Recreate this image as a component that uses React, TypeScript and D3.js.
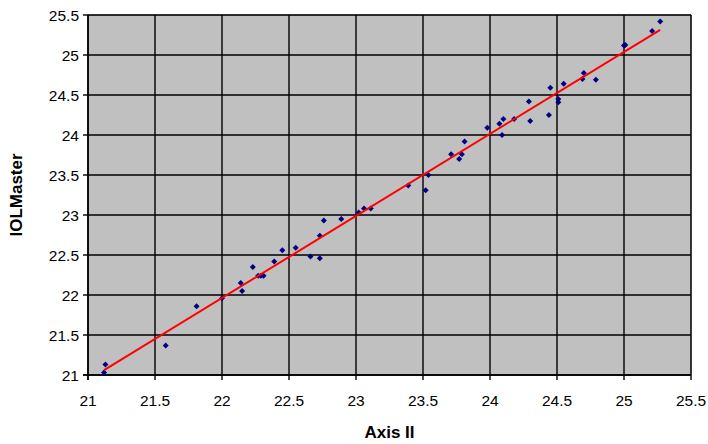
import React from "react";
import * as d3 from "d3";

const xValues = [
  21.12, 21.13, 21.58, 21.81, 22.0, 22.14, 22.15, 22.23, 22.27, 22.29, 22.31, 22.39, 22.45, 22.55,
  22.66, 22.73, 22.73, 22.76, 22.89, 23.02, 23.06, 23.11, 23.39, 23.52, 23.54, 23.71, 23.77, 23.79,
  23.81, 23.98, 24.07, 24.09, 24.1, 24.18, 24.29, 24.3, 24.44, 24.45, 24.51, 24.51, 24.55, 24.69,
  24.7, 24.79, 25.0, 25.01, 25.21, 25.27,
];
const yValues = [
  21.03, 21.13, 21.37, 21.86, 21.96, 22.15, 22.05, 22.35, 22.24, 22.24, 22.24, 22.42, 22.56, 22.59,
  22.48, 22.46, 22.74, 22.93, 22.95, 23.03, 23.08, 23.08, 23.37, 23.31, 23.5, 23.76, 23.7, 23.76,
  23.92, 24.09, 24.14, 24.0, 24.2, 24.2, 24.42, 24.175, 24.25, 24.59, 24.45, 24.41, 24.64, 24.7,
  24.775, 24.69, 25.12, 25.125, 25.3, 25.42,
];
const xTicks = [21, 21.5, 22, 22.5, 23, 23.5, 24, 24.5, 25, 25.5];
const yTicks = [21, 21.5, 22, 22.5, 23, 23.5, 24, 24.5, 25, 25.5];
const xTitle = "Axis II";
const yTitle = "IOLMaster";

export default function App() {
  const W = 708, H = 444;
  const L = 88, R = 691, T = 15, B = 375;
  const x = d3.scaleLinear().domain([21, 25.5]).range([L, R]);
  const y = d3.scaleLinear().domain([21, 25.5]).range([B, T]);
  const n = xValues.length;
  const mx = d3.mean(xValues)!, my = d3.mean(yValues)!;
  let sxy = 0, sxx = 0;
  for (let i = 0; i < n; i++) {
    sxy += (xValues[i] - mx) * (yValues[i] - my);
    sxx += (xValues[i] - mx) ** 2;
  }
  const slope = sxy / sxx;
  const icpt = my - slope * mx;
  const x0 = d3.min(xValues)!, x1 = d3.max(xValues)!;
  const line = d3.line<number>().x((v) => x(v)).y((v) => y(icpt + slope * v));
  const diamond = "M0,-3L3,0L0,3L-3,0Z";
  const font = "Liberation Sans, Arial, sans-serif";
  return (
    <svg width={W} height={H} style={{ position: "absolute", left: 0, top: 0, background: "#fff" }}>
      <rect x={L} y={T} width={R - L} height={B - T} fill="#C0C0C0" stroke="#808080" strokeWidth={1} />
      {xTicks.map((t) => (
        <line key={"gx" + t} x1={x(t)} x2={x(t)} y1={T} y2={B} stroke="#000" strokeWidth={1.4} />
      ))}
      {yTicks.map((t) => (
        <line key={"gy" + t} x1={L} x2={R} y1={y(t)} y2={y(t)} stroke="#000" strokeWidth={1.4} />
      ))}
      <line x1={L} x2={L} y1={T} y2={B + 5} stroke="#000" strokeWidth={1.4} />
      <line x1={L - 5} x2={R} y1={B} y2={B} stroke="#000" strokeWidth={1.4} />
      {yTicks.map((t) => (
        <g key={"ty" + t}>
          <line x1={L - 5} x2={L} y1={y(t)} y2={y(t)} stroke="#000" strokeWidth={1.4} />
          <text x={L - 9} y={y(t) + 5.5} textAnchor="end" fontFamily={font} fontSize={15.5} fill="#000">
            {t}
          </text>
        </g>
      ))}
      {xTicks.map((t) => (
        <g key={"tx" + t}>
          <line x1={x(t)} x2={x(t)} y1={B} y2={B + 5} stroke="#000" strokeWidth={1.4} />
          <text x={x(t)} y={B + 31} textAnchor="middle" fontFamily={font} fontSize={15.5} fill="#000">
            {t}
          </text>
        </g>
      ))}
      {xValues.map((v, i) => (
        <path key={"p" + i} d={diamond} transform={`translate(${x(v)},${y(yValues[i])})`} fill="#000080" />
      ))}
      <path d={line([x0, x1])!} stroke="#FF0000" strokeWidth={2} fill="none" />
      <text x={(L + R) / 2} y={438} textAnchor="middle" fontFamily={font} fontSize={17} fontWeight="bold">
        {xTitle}
      </text>
      <text
        transform={`translate(22,${(T + B) / 2}) rotate(-90)`}
        textAnchor="middle"
        fontFamily={font}
        fontSize={17}
        fontWeight="bold"
      >
        {yTitle}
      </text>
    </svg>
  );
}
